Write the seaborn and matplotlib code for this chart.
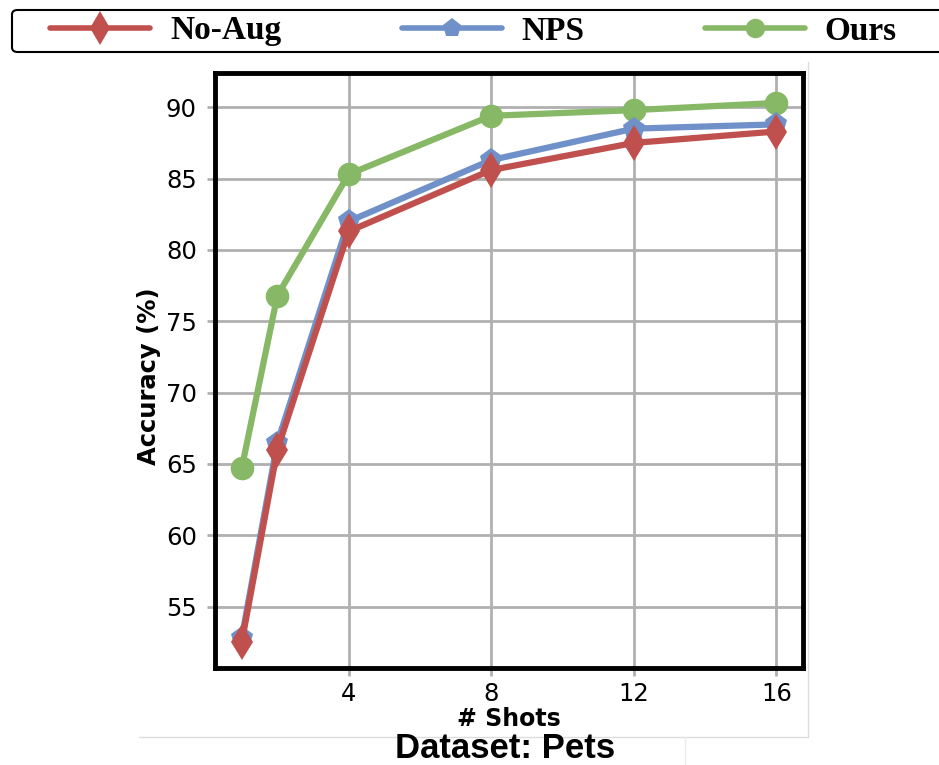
import matplotlib
matplotlib.use("Agg")
import matplotlib.pyplot as plt
from matplotlib.lines import Line2D
from matplotlib.patches import FancyBboxPatch
import seaborn as sns
import pandas as pd

# Few-shot accuracy on the Pets dataset
shots = [1, 2, 4, 8, 12, 16]
no_aug = [52.5, 66.0, 81.3, 85.6, 87.5, 88.3]
nps = [52.8, 66.5, 82.0, 86.3, 88.5, 88.8]
ours = [64.7, 76.8, 85.3, 89.4, 89.8, 90.3]

methods = ["No-Aug", "NPS", "Ours"]
colors = {"No-Aug": "#C0504D", "NPS": "#6F90C8", "Ours": "#86B865"}
markers = {"No-Aug": "d", "NPS": "p", "Ours": "o"}

df = pd.DataFrame({
    "shots": shots * 3,
    "acc": no_aug + nps + ours,
    "method": ["No-Aug"] * len(shots) + ["NPS"] * len(shots) + ["Ours"] * len(shots),
})

sns.set_style("whitegrid")
plt.rcParams["font.family"] = ["DejaVu Sans"]
plt.rcParams["text.color"] = "black"
plt.rcParams["axes.labelcolor"] = "black"
plt.rcParams["xtick.color"] = "black"
plt.rcParams["ytick.color"] = "black"

W, H = 939, 765
fig = plt.figure(figsize=(W / 100, H / 100), dpi=100)
ax = fig.add_axes([215 / W, 1 - 668 / H, (803 - 215) / W, (668 - 73) / H])

# draw order: Ours first, then NPS, No-Aug on top
zorders = {"Ours": 3, "NPS": 4, "No-Aug": 5}
for m in ["Ours", "NPS", "No-Aug"]:
    sub = df[df["method"] == m]
    sns.lineplot(data=sub, x="shots", y="acc", ax=ax, color=colors[m],
                 marker=markers[m], markersize=17 if m != "No-Aug" else 18,
                 markeredgewidth=0, linewidth=4.5, zorder=zorders[m],
                 legend=False)

ax.set_xlim(0.25, 16.75)
ax.set_ylim(50.7, 92.4)
ax.set_xticks([4, 8, 12, 16])
ax.set_yticks([55, 60, 65, 70, 75, 80, 85, 90])
ax.grid(True, color="#b0b0b0", linewidth=2)
ax.set_axisbelow(True)
for s in ax.spines.values():
    s.set_color("black")
    s.set_linewidth(3.5)
ax.tick_params(axis="both", which="major", labelsize=17.5, color="#b0b0b0",
               length=6, width=2, bottom=True, left=True, labelcolor="black")
ax.tick_params(axis="y", pad=7)
ax.tick_params(axis="x", pad=4)
ax.set_xlabel("# Shots", fontsize=17, fontweight="bold", labelpad=1)
ax.set_ylabel("Accuracy (%)", fontsize=17.5, fontweight="bold")
ax.yaxis.set_label_coords(-0.092, 0.49)

# legend strip across the top
box = FancyBboxPatch((12 / W, 1 - 52 / H), (960 - 12) / W, 42 / H,
                     boxstyle="round,pad=0,rounding_size=0.006",
                     transform=fig.transFigure, facecolor="white",
                     edgecolor="black", linewidth=1.5, zorder=1)
fig.add_artist(box)
handles = [Line2D([0], [0], color=colors[m], marker=markers[m], linewidth=4,
                  markersize=14 if m != "No-Aug" else 17, markeredgewidth=0)
           for m in methods]
leg = fig.legend(handles, methods, loc="center left", ncol=3, mode="expand",
                 bbox_to_anchor=(50 / W, 1 - 50 / H, (897 - 50) / W, 38 / H),
                 prop={"family": "Liberation Serif", "weight": "bold", "size": 24},
                 handlelength=3.0, handletextpad=0.6, borderpad=0,
                 borderaxespad=0, frameon=False)
leg.set_zorder(2)

# panel boundary lines
fig.add_artist(Line2D([139 / W, 808 / W], [1 - 737 / H, 1 - 737 / H],
                      transform=fig.transFigure, color="#dcdcdc", linewidth=1))
fig.add_artist(Line2D([808 / W, 808 / W], [1 - 62 / H, 1 - 737 / H],
                      transform=fig.transFigure, color="#dcdcdc", linewidth=1))
fig.add_artist(Line2D([685 / W, 685 / W], [1 - 737 / H, 0],
                      transform=fig.transFigure, color="#ececec", linewidth=1))

fig.text(505 / W, 1 - 758 / H, "Dataset: Pets", ha="center", va="baseline",
         fontsize=25, fontweight="bold", family="Liberation Sans",
         color="black")

fig.savefig("out.png", dpi=100)
